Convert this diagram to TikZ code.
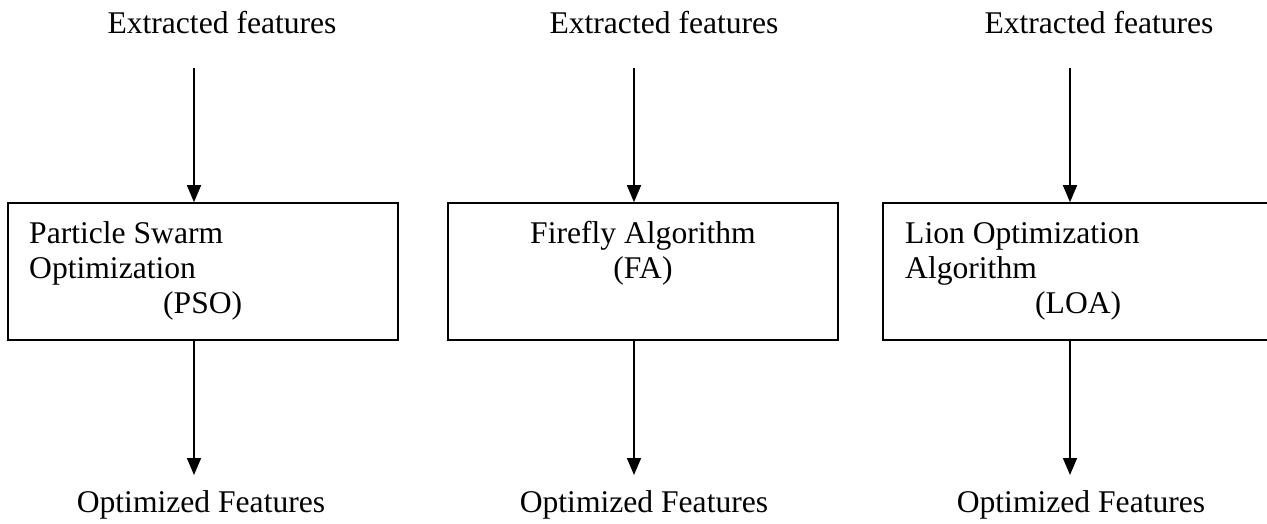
\documentclass[tikz,border=0pt]{standalone}
\usepackage{fontspec}
\setmainfont{Liberation Serif}
\usetikzlibrary{arrows.meta}

\begin{document}
\begin{tikzpicture}[
  x = 1pt, y = -1pt,
  every node/.style = {font = \fontsize{31.6}{38}\selectfont, inner sep = 0pt},
  algobox/.style = {draw, line width = 1.6pt, minimum width = 390pt, minimum height = 137pt},
  lefttxt/.style = {anchor = base west},
  midtxt/.style = {anchor = base},
  flow/.style = {line width = 1.6pt, -{Triangle[length = 17pt, width = 14pt]}},
  ]
  \useasboundingbox (0,0) rectangle (1267,523);

  % inputs
  \node[midtxt] (in1) at (222,33)  {Extracted features};
  \node[midtxt] (in2) at (664,33)  {Extracted features};
  \node[midtxt] (in3) at (1099,33) {Extracted features};

  % the three optimizers
  \node[algobox] (pso) at (203,271.5)  {};
  \node[algobox] (fa)  at (643,271.5)  {};
  \node[algobox] (loa) at (1078,271.5) {};

  \node[lefttxt] (pso1) at (29,243)  {Particle Swarm};
  \node[lefttxt] (pso2) at (29,278)  {Optimization};
  \node[lefttxt] (pso3) at (163,313) {(PSO)};
  \node[midtxt]  (fa1)  at (643,243) {Firefly Algorithm};
  \node[midtxt]  (fa2)  at (643,278) {(FA)};
  \node[lefttxt] (loa1) at (905,243)  {Lion Optimization};
  \node[lefttxt] (loa2) at (905,278)  {Algorithm};
  \node[lefttxt] (loa3) at (1035,313) {(LOA)};

  % outputs
  \node[midtxt] (out1) at (201,512)  {Optimized Features};
  \node[midtxt] (out2) at (644,512)  {Optimized Features};
  \node[midtxt] (out3) at (1081,512) {Optimized Features};

  \coordinate (s1) at (194,68);
  \coordinate (s2) at (634,68);
  \coordinate (s3) at (1070,68);
  \coordinate (e1) at (194,475);
  \coordinate (e2) at (634,475);
  \coordinate (e3) at (1070,475);

  \draw[flow] (s1) -- (s1 |- pso.north);
  \draw[flow] (s2) -- (s2 |- fa.north);
  \draw[flow] (s3) -- (s3 |- loa.north);
  \draw[flow] (e1 |- pso.south) -- (e1);
  \draw[flow] (e2 |- fa.south) -- (e2);
  \draw[flow] (e3 |- loa.south) -- (e3);
\end{tikzpicture}
\end{document}
